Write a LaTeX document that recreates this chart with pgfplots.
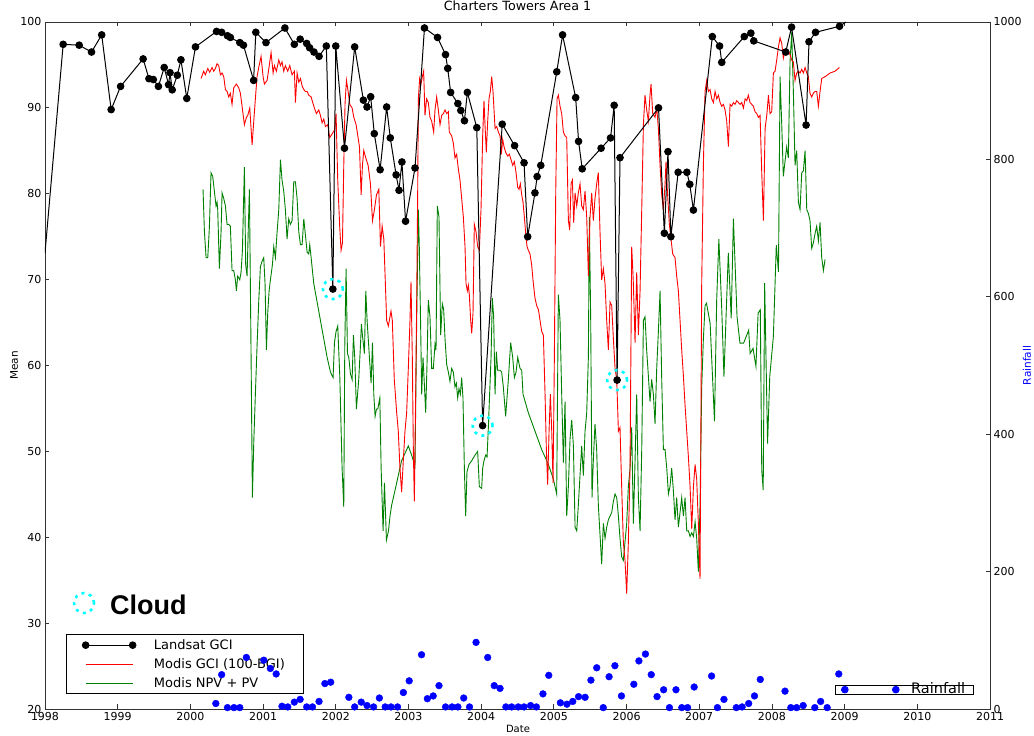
\documentclass[border=0pt]{standalone}
\usepackage{pgfplots}
\pgfplotsset{compat=1.18}
\usepackage{fontspec}
\setmainfont{DejaVu Sans}
\newfontfamily\arialfont{Liberation Sans}
\definecolor{mplgreen}{RGB}{0,128,0}
\definecolor{framegray}{RGB}{50,50,50}
\definecolor{cloudcyan}{RGB}{0,255,255}
\definecolor{rainblue}{RGB}{0,0,255}
\definecolor{mplred}{RGB}{255,0,0}
\begin{document}
\begin{tikzpicture}[x=1pt,y=1pt]
\useasboundingbox (0,0) rectangle (1034,736);
\begin{axis}[
  at={(45pt,27pt)}, anchor=south west,
  scale only axis, width=945pt, height=687pt,
  xmin=1998, xmax=2011, ymin=20, ymax=100,
  xtick={1998,1999,2000,2001,2002,2003,2004,2005,2006,2007,2008,2009,2010,2011},
  xticklabels={1998,1999,2000,2001,2002,2003,2004,2005,2006,2007,2008,2009,2010,2011},
  ytick={20,30,40,50,60,70,80,90,100},
  ytick pos=left, xtick pos=both,
  tick align=inside, major tick length=4.5pt,
  axis line style={framegray, line width=0.9pt},
  every tick/.style={framegray, line width=0.8pt},
  tick label style={font=\fontsize{11}{13}\selectfont},
  /pgf/number format/assume math mode=true,
  /pgf/number format/1000 sep={},
  xlabel={Date}, ylabel={Mean},
  every axis x label/.style={at={(axis description cs:0.5005,-0.0291)}, anchor=center, font=\fontsize{10}{12}\selectfont},
  every axis y label/.style={at={(axis description cs:-0.0328,0.5)}, rotate=90, anchor=center, font=\fontsize{10.5}{12}\selectfont},
  title={Charters Towers Area 1},
  title style={at={(axis description cs:0.5,1.0146)}, anchor=center, font=\fontsize{12.7}{14}\selectfont},
  legend image code/.code={\draw[#1] plot coordinates {(0pt,0pt) (47pt,0pt)};},
  legend style={at={(axis description cs:0.0222,0.0218)}, anchor=south west,
    draw=black, line width=0.8pt, fill=white,
    font=\fontsize{13}{15}\selectfont,
    inner xsep=16pt, inner ysep=1pt, row sep=0pt,
    nodes={inner xsep=3pt, inner ysep=3.8pt},
    /tikz/every odd column/.append style={column sep=15pt}},
  legend cell align=left,
]
\addlegendimage{black, line width=1pt, mark=*, mark size=3.3pt}
\addlegendentry{Landsat GCI}
\addlegendimage{mplred, line width=0.9pt, mark=none}
\addlegendentry{Modis GCI (100-BGI)}
\addlegendimage{mplgreen, line width=0.9pt, mark=none}
\addlegendentry{Modis NPV + PV}

% Modis NPV + PV
\addplot[mplgreen, line width=0.9pt, forget plot] coordinates {
(2000.174,80.52)(2000.193,75.57)(2000.216,72.56)(2000.239,72.56)(2000.261,76.00)(2000.284,82.45)(2000.307,82.02)(2000.330,80.30)(2000.353,78.58)(2000.367,79.01)(2000.376,78.15)(2000.399,71.27)(2000.422,75.57)(2000.436,80.09)(2000.459,79.44)(2000.482,78.58)(2000.505,76.43)(2000.528,76.43)(2000.550,76.22)(2000.573,71.06)(2000.596,71.06)(2000.619,69.98)(2000.633,68.69)(2000.651,70.41)(2000.679,69.98)(2000.697,70.84)(2000.716,73.42)(2000.743,83.10)(2000.761,71.70)(2000.780,70.41)(2000.798,76.43)(2000.812,80.52)(2000.835,60.95)(2000.853,44.61)(2000.872,51.06)(2000.894,56.65)(2000.917,62.24)(2000.940,67.40)(2000.963,71.49)(2000.986,72.13)(2001.009,72.56)(2001.027,69.55)(2001.046,61.81)(2001.064,66.11)(2001.083,68.69)(2001.101,69.98)(2001.128,71.70)(2001.147,73.85)(2001.170,72.56)(2001.193,75.57)(2001.216,78.15)(2001.239,83.96)(2001.261,81.59)(2001.284,80.30)(2001.307,78.15)(2001.330,74.71)(2001.353,77.08)(2001.376,76.43)(2001.399,76.86)(2001.422,81.38)(2001.445,81.38)(2001.468,79.44)(2001.491,75.57)(2001.514,74.07)(2001.537,74.07)(2001.560,77.08)(2001.583,75.14)(2001.606,73.20)(2001.628,72.99)(2001.642,74.07)(2001.661,72.56)(2001.697,69.55)(2001.743,67.40)(2001.789,65.25)(2001.835,63.10)(2001.881,60.95)(2001.927,59.23)(2001.963,58.59)(2001.982,62.67)(2002.004,63.96)(2002.027,64.60)(2002.055,58.80)(2002.087,48.05)(2002.110,43.54)(2002.124,62.24)(2002.142,71.27)(2002.161,61.38)(2002.179,60.95)(2002.202,59.02)(2002.225,58.37)(2002.243,63.53)(2002.261,60.95)(2002.284,54.93)(2002.316,58.37)(2002.339,62.24)(2002.353,64.82)(2002.367,63.53)(2002.394,61.38)(2002.413,68.69)(2002.431,65.25)(2002.463,60.95)(2002.486,57.94)(2002.505,62.67)(2002.523,56.65)(2002.541,54.07)(2002.560,54.93)(2002.578,54.93)(2002.606,56.22)(2002.624,48.05)(2002.651,40.74)(2002.670,46.33)(2002.697,39.67)(2002.725,40.74)
(2002.746,42.46)(2002.769,43.75)(2002.815,45.47)(2002.860,47.19)(2002.906,48.91)(2002.952,49.77)(2002.998,50.63)(2003.044,49.56)(2003.090,48.27)(2003.113,65.25)(2003.136,78.15)(2003.149,73.85)(2003.168,64.39)(2003.182,56.65)(2003.200,60.95)(2003.218,57.94)(2003.237,54.50)(2003.255,60.09)(2003.273,67.62)(2003.296,65.68)(2003.319,59.66)(2003.342,59.66)(2003.365,62.46)(2003.379,61.81)(2003.397,78.58)(2003.420,77.29)(2003.443,63.53)(2003.466,67.19)(2003.484,66.54)(2003.503,63.10)(2003.526,60.09)(2003.549,59.23)(2003.571,58.15)(2003.594,59.66)(2003.617,59.23)(2003.640,57.51)(2003.659,57.94)(2003.677,56.22)(2003.695,57.29)(2003.714,56.65)(2003.732,58.59)(2003.750,56.22)(2003.769,48.05)(2003.787,42.46)(2003.805,47.62)(2003.833,48.48)(2003.870,48.91)(2003.915,49.56)(2003.952,49.99)(2003.975,45.90)(2004.007,45.69)(2004.021,48.05)(2004.039,48.91)(2004.062,49.56)(2004.081,49.34)(2004.099,52.78)(2004.136,60.95)(2004.154,67.83)(2004.172,65.68)(2004.191,56.65)(2004.209,61.60)(2004.227,59.45)(2004.260,59.45)(2004.282,59.23)(2004.305,57.51)(2004.337,54.07)(2004.374,58.37)(2004.406,62.67)(2004.434,60.95)(2004.457,58.59)(2004.480,59.23)(2004.503,60.95)(2004.535,59.66)(2004.558,59.45)(2004.576,56.65)(2004.649,54.50)(2004.741,52.35)(2004.833,50.20)(2004.925,48.48)(2004.994,46.76)(2005.039,45.04)(2005.062,68.26)(2005.085,65.25)(2005.108,56.65)(2005.131,48.70)(2005.154,55.79)(2005.177,42.46)(2005.200,45.90)(2005.223,51.49)(2005.246,53.64)(2005.269,50.63)(2005.292,41.17)(2005.315,40.74)(2005.337,43.75)
(2005.383,50.63)(2005.406,47.19)(2005.429,52.35)(2005.452,54.50)(2005.475,60.95)(2005.488,77.29)(2005.507,65.25)(2005.525,44.61)(2005.543,48.91)(2005.566,53.21)(2005.589,50.20)(2005.612,43.75)(2005.635,40.31)(2005.658,36.87)(2005.681,41.60)(2005.704,39.88)(2005.727,41.17)(2005.750,42.03)(2005.773,42.46)(2005.796,42.89)(2005.819,44.18)(2005.842,45.04)(2005.865,44.61)(2005.888,42.46)(2005.910,39.88)(2005.933,37.73)(2005.956,37.30)(2005.979,39.45)(2006.002,41.60)(2006.025,45.90)(2006.048,48.05)(2006.071,52.78)(2006.094,41.60)(2006.117,48.91)(2006.140,56.65)(2006.163,44.61)(2006.186,40.74)(2006.209,50.20)(2006.232,65.25)(2006.254,65.68)(2006.277,61.81)(2006.300,58.80)(2006.323,55.79)(2006.346,58.37)(2006.369,56.65)(2006.392,53.21)(2006.415,59.66)(2006.438,63.96)(2006.461,68.69)(2006.484,58.37)(2006.507,50.20)(2006.530,50.20)(2006.553,48.05)(2006.576,45.04)(2006.598,45.90)(2006.621,48.05)(2006.644,45.47)(2006.667,42.03)(2006.690,44.61)(2006.713,41.17)(2006.736,42.89)(2006.759,44.61)(2006.782,42.46)(2006.805,44.61)(2006.828,40.74)(2006.851,40.74)(2006.874,40.09)(2006.897,40.52)(2006.920,40.09)(2006.943,41.81)(2006.965,39.88)(2006.988,36.01)(2007.011,43.75)(2007.034,57.51)(2007.057,63.10)(2007.080,66.97)
(2007.10,67.25)(2007.15,64.9)(2007.21,53.5)(2007.24,67.6)(2007.27,74.7)(2007.31,66.5)(2007.34,58.7)(2007.40,73.1)(2007.44,65.5)(2007.47,77.1)(2007.52,65.7)(2007.56,62.6)(2007.61,62.6)(2007.68,64.1)(2007.70,61.4)(2007.74,62.0)(2007.78,59.9)(2007.81,66.1)(2007.84,66.5)(2007.86,47.8)(2007.88,45.5)(2007.90,69.6)(2007.94,50.9)(2007.97,58.7)(2008.02,63.4)(2008.06,74.0)(2008.09,70.9)
(2008.112,93.63)(2008.135,88.04)(2008.157,82.02)(2008.180,83.74)(2008.203,85.46)(2008.226,84.17)(2008.249,95.35)(2008.272,98.79)(2008.295,91.91)(2008.318,83.31)(2008.341,85.03)(2008.364,79.01)(2008.387,78.15)(2008.410,82.45)(2008.433,82.67)(2008.456,85.03)(2008.479,78.15)(2008.501,77.72)(2008.524,76.86)(2008.547,73.64)(2008.570,74.28)(2008.593,75.36)(2008.616,76.22)(2008.639,74.50)(2008.662,76.65)(2008.685,72.56)(2008.708,71.06)(2008.731,72.35)
};

% Modis GCI (100-BGI)
\addplot[mplred, line width=0.9pt, forget plot] coordinates {
(2000.147,93.42)(2000.183,94.27)(2000.206,93.85)(2000.239,94.58)(2000.266,94.15)(2000.298,94.70)(2000.321,94.27)(2000.344,94.58)(2000.367,95.14)(2000.390,94.92)(2000.413,93.85)(2000.436,94.06)(2000.459,93.63)(2000.482,92.13)(2000.505,91.91)(2000.528,91.27)(2000.550,91.70)(2000.573,90.41)(2000.596,92.34)(2000.633,92.77)(2000.665,92.34)(2000.688,91.70)(2000.711,90.19)(2000.743,88.04)(2000.771,88.90)(2000.789,89.12)(2000.817,89.98)(2000.849,85.68)(2000.872,88.47)(2000.894,91.05)(2000.917,93.63)(2000.940,94.70)(2000.972,95.99)(2001.000,93.63)(2001.018,92.77)(2001.055,93.20)(2001.078,94.49)(2001.110,96.43)(2001.138,94.06)(2001.156,94.92)(2001.183,94.27)(2001.216,95.57)(2001.239,94.92)(2001.261,95.35)(2001.284,94.27)(2001.307,94.92)(2001.339,94.27)(2001.367,94.92)(2001.399,93.85)(2001.431,94.27)(2001.445,90.62)(2001.468,94.06)(2001.491,92.99)(2001.514,93.42)(2001.537,92.56)(2001.560,92.13)(2001.583,91.91)(2001.606,91.91)(2001.628,91.48)(2001.661,91.27)(2001.683,90.62)(2001.706,89.98)(2001.734,89.33)(2001.766,89.76)(2001.789,89.12)(2001.812,88.26)(2001.835,88.69)(2001.858,87.83)(2001.890,88.04)(2001.917,86.54)(2001.950,86.97)(2001.982,87.40)(2002.004,89.33)(2002.027,81.59)(2002.055,76.00)(2002.073,73.42)(2002.092,74.28)(2002.110,83.31)(2002.128,90.62)(2002.147,93.20)(2002.170,91.91)(2002.193,90.41)(2002.225,89.98)(2002.248,88.90)(2002.280,88.04)(2002.303,86.75)(2002.326,85.46)(2002.349,79.87)(2002.367,83.31)(2002.385,85.03)(2002.413,84.17)(2002.445,83.31)(2002.477,81.16)(2002.505,76.86)(2002.532,78.15)(2002.560,79.87)(2002.592,80.52)(2002.615,73.85)(2002.638,76.22)(2002.661,74.71)
(2002.700,65.25)(2002.723,64.60)(2002.760,66.33)(2002.778,65.25)(2002.805,58.37)(2002.838,54.50)(2002.860,52.35)(2002.883,48.05)(2002.906,45.26)(2002.929,48.91)(2002.952,52.35)(2002.975,54.50)(2002.998,59.66)(2003.021,65.25)(2003.035,69.77)(2003.053,60.95)(2003.067,50.20)(2003.081,44.18)(2003.099,56.65)(2003.113,67.40)(2003.127,80.30)(2003.136,91.05)(2003.154,93.42)(2003.172,92.77)(2003.191,93.63)(2003.209,94.27)(2003.227,89.12)(2003.250,91.05)(2003.273,90.62)(2003.296,88.90)(2003.319,88.47)(2003.347,87.18)(2003.365,89.76)(2003.388,91.27)(2003.411,89.76)(2003.434,88.04)(2003.457,89.12)(2003.480,89.33)(2003.503,89.76)(2003.526,89.33)(2003.549,89.55)(2003.562,87.18)(2003.594,86.75)(2003.617,85.89)(2003.640,84.17)(2003.663,84.60)(2003.686,82.88)(2003.709,81.59)(2003.732,79.44)(2003.755,77.29)(2003.778,73.85)(2003.792,69.55)(2003.810,68.69)(2003.824,69.34)(2003.837,68.26)(2003.856,65.25)(2003.870,63.75)(2003.888,66.11)(2003.906,76.43)(2003.929,75.57)(2003.952,73.85)(2003.975,73.42)(2003.998,78.15)(2004.021,86.75)(2004.039,90.84)(2004.053,88.04)(2004.071,84.82)(2004.090,88.47)(2004.108,91.05)(2004.126,91.91)(2004.145,93.63)(2004.163,91.91)(2004.191,87.61)(2004.214,87.83)(2004.237,87.18)(2004.260,86.75)(2004.278,84.60)(2004.296,86.32)(2004.315,85.46)(2004.338,84.82)(2004.365,84.39)(2004.388,84.60)(2004.411,83.96)(2004.434,83.31)(2004.457,83.74)(2004.480,82.45)(2004.503,80.73)(2004.521,80.52)(2004.539,81.16)(2004.558,79.87)(2004.576,79.01)(2004.594,77.29)(2004.613,75.36)(2004.631,73.85)(2004.649,73.42)(2004.672,72.99)(2004.695,71.70)(2004.718,69.55)(2004.741,67.83)(2004.764,66.97)(2004.787,66.54)(2004.810,65.25)(2004.833,63.96)(2004.856,63.53)(2004.879,56.65)(2004.897,50.20)(2004.915,46.12)(2004.934,52.35)(2004.952,56.65)(2004.971,52.35)(2004.989,46.33)(2005.007,60.95)(2005.026,80.30)(2005.044,91.05)(2005.062,91.48)(2005.085,90.19)(2005.108,89.33)(2005.131,87.18)(2005.154,86.75)(2005.177,86.54)(2005.200,76.86)(2005.218,75.79)(2005.237,81.16)(2005.255,81.59)(2005.273,76.65)(2005.292,80.09)(2005.315,78.58)(2005.337,80.09)
(2005.360,81.16)(2005.383,78.58)(2005.406,78.15)(2005.429,80.30)(2005.452,77.29)(2005.475,70.41)(2005.498,77.29)(2005.521,80.09)(2005.543,76.86)(2005.566,79.44)(2005.589,81.16)(2005.612,82.45)(2005.635,75.57)(2005.658,69.98)(2005.681,71.27)(2005.704,69.55)(2005.727,65.25)(2005.750,61.81)(2005.773,67.40)(2005.796,66.97)(2005.819,63.10)(2005.842,59.66)(2005.865,58.37)(2005.888,52.35)(2005.910,52.78)(2005.933,45.90)(2005.956,39.45)(2005.979,37.30)(2006.002,33.43)(2006.025,39.45)(2006.048,48.05)(2006.071,73.85)(2006.094,69.55)(2006.117,62.67)(2006.140,70.84)(2006.163,63.53)(2006.186,68.69)(2006.209,78.15)(2006.232,88.04)(2006.254,91.48)(2006.277,89.76)(2006.300,88.47)(2006.323,91.48)(2006.337,92.77)(2006.360,89.33)(2006.392,88.90)(2006.415,89.98)(2006.438,87.61)(2006.461,83.31)(2006.484,79.87)(2006.507,78.15)(2006.530,81.16)(2006.543,83.74)(2006.562,80.30)(2006.589,76.43)(2006.612,74.71)(2006.635,72.99)(2006.667,72.56)(2006.690,70.41)(2006.713,68.69)(2006.736,65.25)(2006.759,61.81)(2006.782,58.80)(2006.805,55.36)(2006.828,52.35)(2006.851,49.34)(2006.874,45.90)(2006.897,40.95)(2006.920,45.90)(2006.943,48.48)(2006.965,46.76)(2006.988,41.60)(2007.011,35.15)(2007.034,69.55)(2007.057,83.31)(2007.080,91.91)(2007.103,93.20)(2007.126,91.91)(2007.149,92.13)(2007.172,91.05)(2007.195,90.62)(2007.218,91.91)(2007.241,91.05)(2007.264,91.48)(2007.287,90.62)(2007.309,90.19)(2007.332,90.41)(2007.355,89.76)(2007.378,88.47)(2007.401,85.50)(2007.424,90.41)(2007.447,90.19)(2007.470,90.62)(2007.493,90.41)(2007.516,90.84)(2007.539,90.62)(2007.562,90.41)(2007.585,90.62)(2007.608,89.98)(2007.631,91.05)(2007.654,90.84)(2007.676,91.48)(2007.699,90.62)(2007.722,90.41)(2007.745,90.19)(2007.768,89.55)(2007.791,89.33)(2007.814,88.90)(2007.837,89.12)(2007.860,82.45)(2007.883,76.86)(2007.906,87.61)(2007.929,89.12)(2007.952,91.48)
(2007.974,89.33)(2007.997,89.55)(2008.020,94.06)(2008.043,94.27)(2008.066,95.57)(2008.089,97.07)(2008.112,98.15)(2008.135,97.50)(2008.157,95.78)(2008.180,96.64)(2008.203,96.43)(2008.226,96.64)(2008.249,96.21)(2008.272,95.57)(2008.295,95.35)(2008.318,93.20)(2008.341,94.06)(2008.364,94.27)(2008.387,94.06)(2008.410,94.49)(2008.433,94.06)(2008.456,94.70)(2008.479,94.06)(2008.501,93.63)(2008.524,91.70)(2008.547,91.27)(2008.570,91.70)(2008.593,91.91)(2008.616,91.91)(2008.639,90.19)(2008.662,91.91)(2008.685,93.42)(2008.731,93.63)(2008.800,94.06)(2008.868,94.27)(2008.928,94.70)
};

% Landsat GCI: end segments without markers
\addplot[black, line width=1pt, forget plot] coordinates {(1998.0,73.1)(1998.25,97.4)};
\addplot[black, line width=1pt, forget plot] coordinates {(2008.93,99.5)(2009.02,100.0)};
% Landsat GCI
\addplot[black, line width=1pt, mark=*, mark size=3.3pt, forget plot] coordinates {
(1998.25,97.4)(1998.47,97.3)(1998.64,96.5)(1998.78,98.5)(1998.91,89.8)(1999.04,92.5)(1999.35,95.7)(1999.43,93.4)(1999.49,93.3)(1999.56,92.5)(1999.64,94.7)(1999.70,92.7)(1999.72,94.1)(1999.75,92.1)(1999.82,93.8)(1999.87,95.6)(1999.95,91.1)(2000.07,97.1)(2000.36,98.9)(2000.43,98.8)(2000.51,98.4)(2000.55,98.2)(2000.68,97.6)(2000.73,97.3)(2000.87,93.2)(2000.90,98.8)(2001.04,97.6)(2001.30,99.3)(2001.43,97.4)(2001.51,98.0)(2001.60,97.5)(2001.64,97.0)(2001.70,96.5)(2001.77,96.0)(2001.87,97.2)(2001.96,68.9)(2002.00,97.2)(2002.12,85.3)(2002.26,97.1)(2002.38,90.9)(2002.43,90.1)(2002.48,91.3)(2002.53,87.0)(2002.61,82.8)(2002.70,90.1)(2002.75,86.5)(2002.83,82.2)(2002.87,80.4)(2002.91,83.7)(2002.96,76.8)(2003.09,83.0)(2003.22,99.3)(2003.40,98.2)(2003.51,96.2)(2003.54,94.6)(2003.58,91.8)(2003.68,90.5)(2003.72,89.7)(2003.77,88.5)(2003.81,91.8)(2003.94,87.7)(2004.02,53.0)(2004.29,88.1)(2004.46,85.6)(2004.59,83.6)(2004.64,75.0)(2004.74,80.1)(2004.77,82.0)(2004.82,83.3)(2005.04,94.2)(2005.12,98.5)(2005.30,91.2)(2005.34,86.1)(2005.39,82.9)(2005.65,85.3)(2005.78,86.5)(2005.83,90.3)(2005.87,58.3)(2005.91,84.2)(2006.44,90.0)(2006.52,75.4)(2006.57,84.9)(2006.61,75.0)(2006.71,82.5)(2006.83,82.5)(2006.87,81.1)(2006.92,78.1)(2007.18,98.3)(2007.28,97.2)(2007.31,95.3)(2007.62,98.3)(2007.71,98.7)(2007.75,97.8)(2008.19,96.5)(2008.27,99.4)(2008.47,88.0)(2008.51,97.7)(2008.60,98.8)(2008.93,99.5)
};

% Cloud markers (and the one beside the word Cloud)
\addplot[only marks, mark=o, mark size=10pt, forget plot,
  mark options={draw=cloudcyan, line width=2.6pt, dash pattern=on 3pt off 4.6pt}] coordinates {
(2001.96,68.9)(2004.02,53.0)(2005.87,58.3)(1998.537,32.34)
};
\node[anchor=base west, inner sep=0pt, font=\arialfont\bfseries\fontsize{27}{30}\selectfont] at (axis cs:1998.894,31.0) {Cloud};
\end{axis}

\begin{axis}[
  at={(45pt,27pt)}, anchor=south west,
  scale only axis, width=945pt, height=687pt,
  xmin=1998, xmax=2011, ymin=0, ymax=1000,
  axis y line*=right, axis x line=none,
  ytick={0,200,400,600,800,1000},
  tick align=inside, major tick length=4.5pt,
  axis line style={framegray, line width=0.9pt},
  every tick/.style={framegray, line width=0.8pt},
  tick label style={font=\fontsize{11}{13}\selectfont},
  /pgf/number format/assume math mode=true,
  /pgf/number format/1000 sep={},
  ylabel={Rainfall},
  every axis y label/.style={at={(axis description cs:1.039,0.5)}, rotate=90, anchor=center, text=rainblue, font=\fontsize{10.5}{12}\selectfont},
  legend image code/.code={\draw[#1] plot coordinates {(0pt,0pt) (51pt,0pt)};},
  legend style={at={(axis description cs:0.836,0.0214)}, anchor=south west,
    draw=black, line width=0.8pt, fill=white,
    font=\fontsize{14.5}{15}\selectfont,
    inner xsep=6pt, inner ysep=0.6pt,
    nodes={inner xsep=2pt, inner ysep=0pt, text height=0.73em, text depth=0pt},
    /tikz/every odd column/.append style={column sep=10pt}},
]
\addplot[only marks, mark=*, mark size=3.4pt, rainblue, mark options={draw=rainblue, fill=rainblue}] coordinates {
(2000.35,8)(2000.43,50)(2000.51,2)(2000.60,2)(2000.68,2)(2000.77,75)(2001.01,71)(2001.10,59)(2001.18,51)(2001.26,4)(2001.34,3)(2001.43,10)(2001.51,14)(2001.60,3)(2001.68,3)(2001.77,11)(2001.85,37)(2001.93,39)(2002.18,17)(2002.26,3)(2002.35,10)(2002.43,5)(2002.52,3)(2002.60,16)(2002.68,3)(2002.76,3)(2002.85,3)(2002.93,24)(2003.01,41)(2003.18,79)(2003.26,15)(2003.34,19)(2003.42,34)(2003.51,3)(2003.60,3)(2003.68,3)(2003.76,16)(2003.84,3)(2003.93,97)(2004.09,75)(2004.18,34)(2004.26,30)(2004.34,3)(2004.42,3)(2004.51,3)(2004.59,3)(2004.68,5)(2004.76,3)(2004.85,22)(2004.93,49)(2005.09,9)(2005.18,7)(2005.26,11)(2005.34,18)(2005.43,17)(2005.51,42)(2005.59,60)(2005.68,2)(2005.76,47)(2005.84,63)(2005.93,19)(2006.10,36)(2006.17,70)(2006.26,80)(2006.34,50)(2006.42,18)(2006.51,28)(2006.59,2)(2006.68,28)(2006.76,2)(2006.84,2)(2006.93,32)(2007.17,48)(2007.25,2)(2007.34,14)(2007.51,2)(2007.59,3)(2007.68,8)(2007.76,19)(2007.84,43)(2008.18,26)(2008.26,2)(2008.34,2)(2008.43,5)(2008.59,2)(2008.67,11)(2008.76,2)(2008.92,51)
};
\addlegendentry{Rainfall}
\end{axis}
\end{tikzpicture}
\end{document}
